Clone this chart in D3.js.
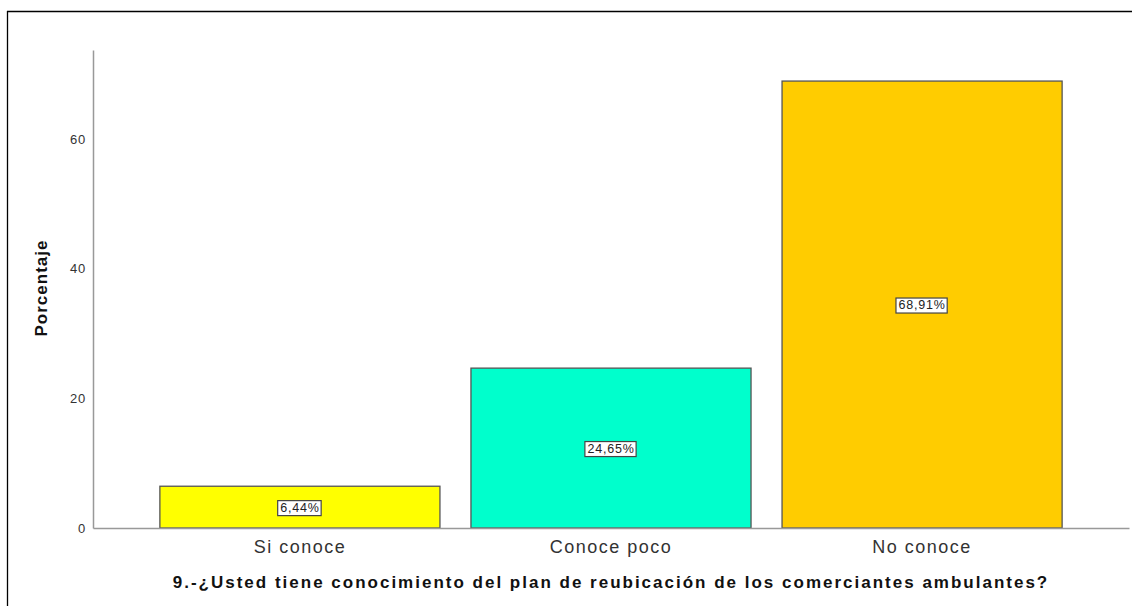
<!DOCTYPE html>
<html><head><meta charset="utf-8">
<script src="https://cdn.jsdelivr.net/npm/d3@7"></script>
<style>body{margin:0;background:#fff;} svg{display:block;}</style>
</head><body>
<svg id="c" width="1132" height="606"></svg>
<script>
const categories = ["Si conoce", "Conoce poco", "No conoce"];
const values = [6.44, 24.65, 68.91];
const valueLabels = ["6,44%", "24,65%", "68,91%"];
const colors = ["#FFFF00", "#00FFCC", "#FFCC00"];
const yTicks = [0, 20, 40, 60];
const yTitle = "Porcentaje";
const xTitle = "9.-¿Usted tiene conocimiento del plan de reubicación de los comerciantes ambulantes?";

const svg = d3.select("#c");
const font = "'Liberation Sans', Arial, sans-serif";

// frame
svg.append("line").attr("x1", 7).attr("x2", 1132).attr("y1", 11.5).attr("y2", 11.5).attr("stroke", "#000").attr("stroke-width", 1.3);
svg.append("line").attr("x1", 7.5).attr("x2", 7.5).attr("y1", 11).attr("y2", 606).attr("stroke", "#000").attr("stroke-width", 1.3);

const x = d3.scaleBand().domain(categories).range([93, 1129]).paddingInner(0.0997).paddingOuter(0.215);
const y = d3.scaleLinear().domain([0, 73.7]).range([528, 50]);

// bars
svg.selectAll("rect.bar").data(values).join("rect")
  .attr("class", "bar")
  .attr("x", (d, i) => x(categories[i]))
  .attr("width", x.bandwidth())
  .attr("y", d => y(d))
  .attr("height", d => y(0) - y(d))
  .attr("fill", (d, i) => colors[i])
  .attr("stroke", "#555").attr("stroke-width", 1.3);

// axes
const yAxis = svg.append("g").attr("transform", "translate(93,0)")
  .call(d3.axisLeft(y).tickValues(yTicks).tickSize(0).tickPadding(7));
yAxis.select(".domain").attr("stroke", "#999").attr("stroke-width", 1.5);
yAxis.selectAll("text").attr("font-family", font).attr("font-size", 13).attr("letter-spacing", 0.8).attr("fill", "#333");

const xAxis = svg.append("g").attr("transform", "translate(0,528)")
  .call(d3.axisBottom(x).tickSize(0).tickPadding(12).tickSizeOuter(0));
xAxis.select(".domain").attr("stroke", "#999").attr("stroke-width", 1.5);
xAxis.selectAll("text").attr("font-family", font).attr("font-size", 18).attr("letter-spacing", 1.5).attr("fill", "#333");

// value labels
const lab = svg.selectAll("g.lab").data(values).join("g").attr("class", "lab")
  .attr("transform", (d, i) => `translate(${x(categories[i]) + x.bandwidth() / 2},${(y(0) + y(d)) / 2})`);
lab.append("text").attr("text-anchor", "middle").attr("dy", "0.36em")
  .attr("font-family", font).attr("font-size", 12.5).attr("letter-spacing", 0.8).attr("fill", "#222")
  .text((d, i) => valueLabels[i]);
lab.each(function () {
  const g = d3.select(this);
  const bb = g.select("text").node().getBBox();
  g.insert("rect", "text").attr("x", bb.x - 2.5).attr("y", bb.y).attr("width", bb.width + 4).attr("height", bb.height + 1)
    .attr("fill", "#fff").attr("stroke", "#444").attr("stroke-width", 1.2);
});

// titles
svg.append("text").attr("transform", "translate(47,288) rotate(-90)")
  .attr("text-anchor", "middle").attr("font-family", font).attr("font-weight", "bold")
  .attr("font-size", 17).attr("letter-spacing", 1).attr("fill", "#111").text(yTitle);
svg.append("text").attr("x", 611).attr("y", 588)
  .attr("text-anchor", "middle").attr("font-family", font).attr("font-weight", "bold")
  .attr("font-size", 17).attr("letter-spacing", 2).attr("fill", "#111").text(xTitle);
</script>
</body></html>
